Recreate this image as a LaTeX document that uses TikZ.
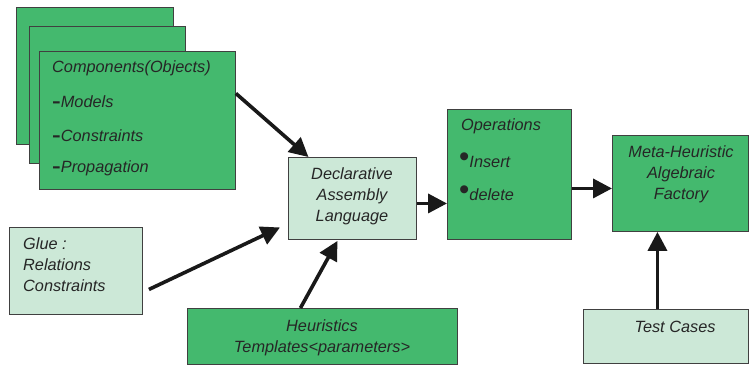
\documentclass[tikz,border=0pt]{standalone}
\usepackage{fontspec}
\setmainfont{Liberation Sans}
\usetikzlibrary{arrows.meta}
\definecolor{dgreen}{RGB}{68,185,110}
\definecolor{lgreen}{RGB}{204,232,215}
\definecolor{bord}{RGB}{64,64,64}
\tikzset{
  gbox/.style={draw=bord, line width=0.9pt, fill=dgreen, inner sep=0pt, anchor=north west},
  lbox/.style={draw=bord, line width=0.9pt, fill=lgreen, inner sep=0pt, anchor=north west},
  lbl/.style={font=\fontsize{16.3}{21}\selectfont\itshape, text=black!85, inner sep=0pt},
  arr/.style={line width=3.6pt, -{Triangle[length=19pt,width=19pt]}, black!90}
}
\newcommand{\bdash}{{\upshape\bfseries\scalebox{1.6}[1.1]{-}}}
\newcommand{\bbul}{\raisebox{1.5pt}{\upshape\scalebox{1.8}{\textbullet}}}
\begin{document}
\begin{tikzpicture}[x=1pt,y=-1pt]
\useasboundingbox (0,0) rectangle (751,365);
% stacked component boxes
\node[gbox, minimum width=157pt, minimum height=137pt] (stackA) at (16,7) {};
\node[gbox, minimum width=156pt, minimum height=137pt] (stackB) at (29,26) {};
\node[gbox, minimum width=196pt, minimum height=138pt] (comp) at (39,51) {};
\node[lbl, anchor=west] (c1) at (52,68) {Components(Objects)};
\node[lbl, anchor=west] (c2) at (52,102) {\bdash Models};
\node[lbl, anchor=west] (c3) at (52,136) {\bdash Constraints};
\node[lbl, anchor=west] (c4) at (52,168) {\bdash Propagation};
% declarative
\node[lbox, minimum width=128pt, minimum height=82pt] (decl) at (288,157) {};
\node[lbl, align=center, anchor=north] (dt) at (352,167) {Declarative\\Assembly\\Language};
% operations
\node[gbox, minimum width=124pt, minimum height=130pt] (ops) at (447,109) {};
\node[lbl, anchor=west] (o1) at (461,126) {Operations};
\node[lbl, anchor=west] (o2) at (459,160) {\bbul Insert};
\node[lbl, anchor=west] (o3) at (459,193) {\bbul delete};
% meta
\node[gbox, minimum width=136pt, minimum height=96pt] (meta) at (612,135) {};
\node[lbl, align=center, anchor=north] (mt) at (681,145) {Meta-Heuristic\\Algebraic\\Factory};
% test cases
\node[lbox, minimum width=165pt, minimum height=54pt] (test) at (583,309) {};
\node[lbl] (tt) at (675,327) {Test Cases};
% glue
\node[lbox, minimum width=133pt, minimum height=87pt] (glue) at (9,227) {};
\node[lbl, align=left, anchor=north west] (gt) at (23,237) {Glue :\\Relations\\Constraints};
% heuristics
\node[gbox, minimum width=270pt, minimum height=56pt] (heur) at (187,308) {};
\node[lbl, align=center, anchor=north] (ht) at (322,319) {Heuristics\\Templates<parameters>};
% arrows
\draw[arr] ([yshift=27pt]comp.east) -- ([xshift=-44pt]decl.north);
\draw[arr] ([xshift=6pt,yshift=-18.5pt]glue.east) -- ([xshift=-8pt,yshift=-29pt]decl.west);
\draw[arr] ([xshift=-22pt]heur.north) -- ([xshift=-15pt,yshift=-1pt]decl.south);
\draw[arr] ([yshift=-5pt]decl.east) -- ([yshift=-5pt]decl.east -| ops.west);
\draw[arr] ([yshift=-14pt]ops.east) -- ([yshift=-14pt]ops.east -| meta.west);
\draw[arr] ([xshift=-8.5pt]test.north) -- ([xshift=-8.5pt]test.north |- meta.south);
\end{tikzpicture}
\end{document}
